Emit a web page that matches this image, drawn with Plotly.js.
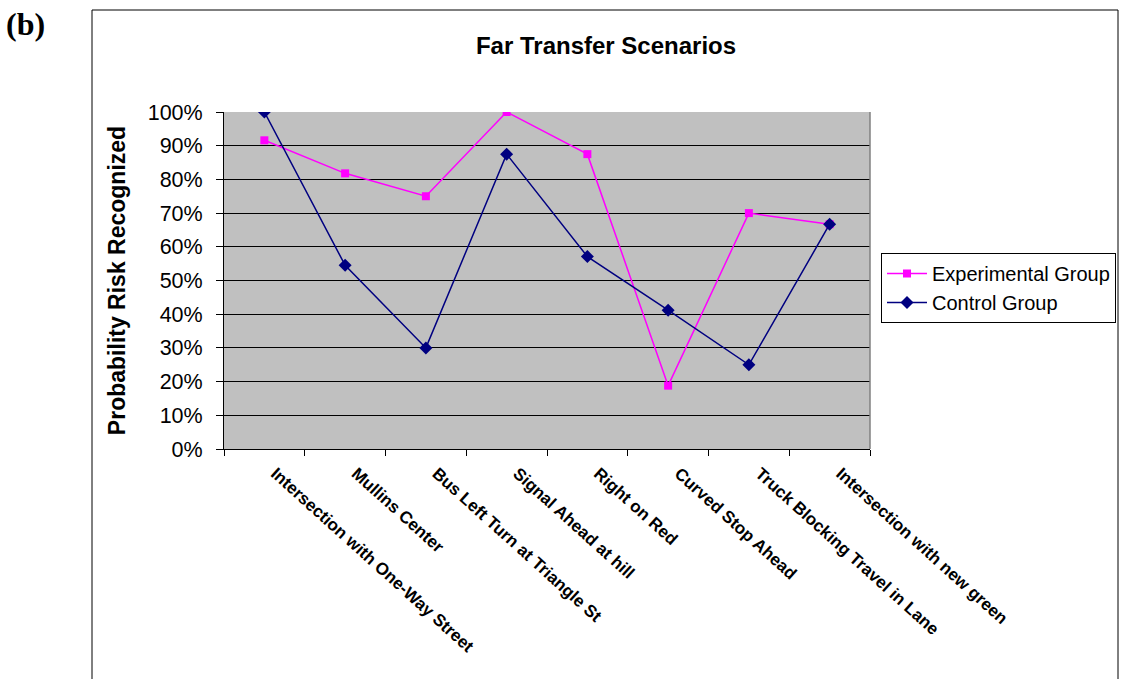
<!DOCTYPE html>
<html>
<head>
<meta charset="utf-8">
<script src="https://cdn.plot.ly/plotly-3.0.1.min.js"></script>
<style>html,body{margin:0;padding:0;background:#fff;}#chart{width:1121px;height:679px;}</style>
</head>
<body>
<div id="chart"></div>
<script>
const categories = [
  "Intersection with One-Way Street",
  "Mullins Center",
  "Bus Left Turn at Triangle St",
  "Signal Ahead at hill",
  "Right on Red",
  "Curved Stop Ahead",
  "Truck Blocking Travel in Lane",
  "Intersection with new green"
];
const experimental = [0.916, 0.818, 0.75, 1.0, 0.875, 0.188, 0.70, 0.667];
const control = [1.0, 0.545, 0.30, 0.875, 0.571, 0.412, 0.25, 0.667];
const seriesNames = ["Experimental Group", "Control Group"];
const chartTitle = "Far Transfer Scenarios";
const yTitle = "Probability Risk Recognized";

const W = 1121, H = 679;
const L = 224, R = 870, T = 112, B = 449;
const px = x => (x - L) / (R - L);
const py = y => (B - y) / (B - T);

const font = "Liberation Sans, Arial, sans-serif";

const traces = [
  {
    x: categories, y: experimental, name: seriesNames[0],
    type: "scatter", mode: "lines+markers",
    line: {color: "#FF00FF", width: 1.5},
    marker: {symbol: "square", size: 8, color: "#FF00FF"}
  },
  {
    x: categories, y: control, name: seriesNames[1],
    type: "scatter", mode: "lines+markers",
    line: {color: "#000080", width: 1.5},
    marker: {symbol: "diamond", size: 10, color: "#000080"}
  }
];

const layout = {
  width: W, height: H,
  margin: {l: L, r: W - R, t: T, b: H - B, pad: 0, autoexpand: false},
  paper_bgcolor: "#FFFFFF",
  plot_bgcolor: "#C0C0C0",
  showlegend: true,
  font: {family: font, color: "#000"},
  title: {
    text: "<b>" + chartTitle + "</b>",
    font: {family: font, size: 24, color: "#000"},
    xref: "container", yref: "container",
    x: 606 / W, y: 1 - 46 / H, xanchor: "center", yanchor: "middle"
  },
  xaxis: {
    type: "category",
    range: [-0.5, categories.length - 0.5],
    showgrid: false, zeroline: false,
    showline: true, linecolor: "#000", linewidth: 1,
    ticks: "outside", tickson: "boundaries", ticklen: 6, tickcolor: "#000", tickwidth: 1,
    tickangle: 42,
    ticklabelstandoff: 7,
    ticklabelshift: 11,
    tickfont: {family: font, size: 17, color: "#000", weight: "bold"},
    fixedrange: true
  },
  yaxis: {
    range: [0, 1],
    dtick: 0.1, tick0: 0,
    tickformat: ".0%",
    showgrid: true, gridcolor: "#000", gridwidth: 1,
    zeroline: false,
    showline: true, linecolor: "#000", linewidth: 1,
    ticks: "outside", ticklen: 7, tickcolor: "#000", tickwidth: 1,
    ticklabelstandoff: 9,
    tickfont: {family: font, size: 21.5, color: "#000"},
    title: {text: "<b>" + yTitle + "</b>", font: {family: font, size: 23, color: "#000"}, standoff: 15},
    fixedrange: true
  },
  legend: {
    x: px(881), y: py(253), xanchor: "left", yanchor: "top",
    bgcolor: "#FFFFFF", bordercolor: "#000", borderwidth: 1,
    font: {family: font, size: 20, color: "#000"},
    itemwidth: 40, tracegroupgap: 0
  },
  shapes: [
    {type: "rect", xref: "paper", yref: "paper", x0: px(92), x1: px(1118), y0: py(700), y1: py(10),
     line: {color: "#000", width: 1}, fillcolor: "rgba(0,0,0,0)", layer: "below"},
    {type: "line", xref: "paper", yref: "paper", x0: 1, x1: 1, y0: 0, y1: 1,
     line: {color: "#808080", width: 1.5}}
  ],
  annotations: [
    {text: "<b>(b)</b>", xref: "paper", yref: "paper", x: px(4), y: py(24),
     xanchor: "left", yanchor: "middle", showarrow: false,
     font: {family: "Liberation Serif, Times New Roman, serif", size: 32, color: "#000"}}
  ]
};

Plotly.newPlot("chart", traces, layout, {staticPlot: true, displayModeBar: false});
</script>
</body>
</html>
